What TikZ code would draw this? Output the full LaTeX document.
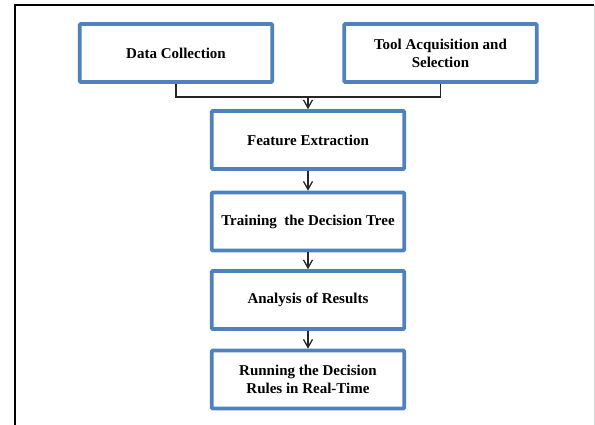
\documentclass[tikz,border=0pt]{standalone}
\usepackage{fontspec}
\setmainfont{Liberation Serif}
\usetikzlibrary{arrows.meta}
\definecolor{boxblue}{RGB}{79,129,189}

\begin{document}
\begin{tikzpicture}[x=1pt,y=-1pt,
    stage/.style={draw=boxblue,line width=3.6pt,rounded corners=1pt,fill=white,
      minimum width=192.5pt,minimum height=58pt,align=center,inner sep=2pt,
      font=\fontsize{15}{18}\selectfont\bfseries},
    link/.style={draw=black!85,line width=1.2pt},
    flow/.style={link,-{Straight Barb[length=8pt,width=9pt,line width=1.3pt]}}]
  \useasboundingbox (0,0) rectangle (595,425);
  % page frame
  \draw[line width=1.8pt] (14.7,425) -- (14.7,4.7) -- (594,4.7);
  \draw[black!15,line width=0.8pt] (594,4.7) -- (594,425);
  % two inputs
  \node[stage] (data) at (176,53) {Data Collection};
  \node[stage] (tool) at (440.5,53) {Tool Acquisition and\\Selection};
  % pipeline
  \node[stage] (feature) at (308,140) {Feature Extraction};
  \node[stage] (training) at (308,221.5) {Training\ \ the Decision Tree};
  \node[stage] (analysis) at (308,300) {Analysis of Results};
  \node[stage] (running) at (308,379.5) {Running the Decision\\Rules in Real-Time};
  \coordinate (join) at (308,97);
  \draw[link] (data.south) |- (join) -| (tool.south);
  \draw[flow] (join) -- (feature.north);
  \draw[flow] (feature) -- (training);
  \draw[flow] (training) -- (analysis);
  \draw[flow] (analysis) -- (running);
\end{tikzpicture}
\end{document}
